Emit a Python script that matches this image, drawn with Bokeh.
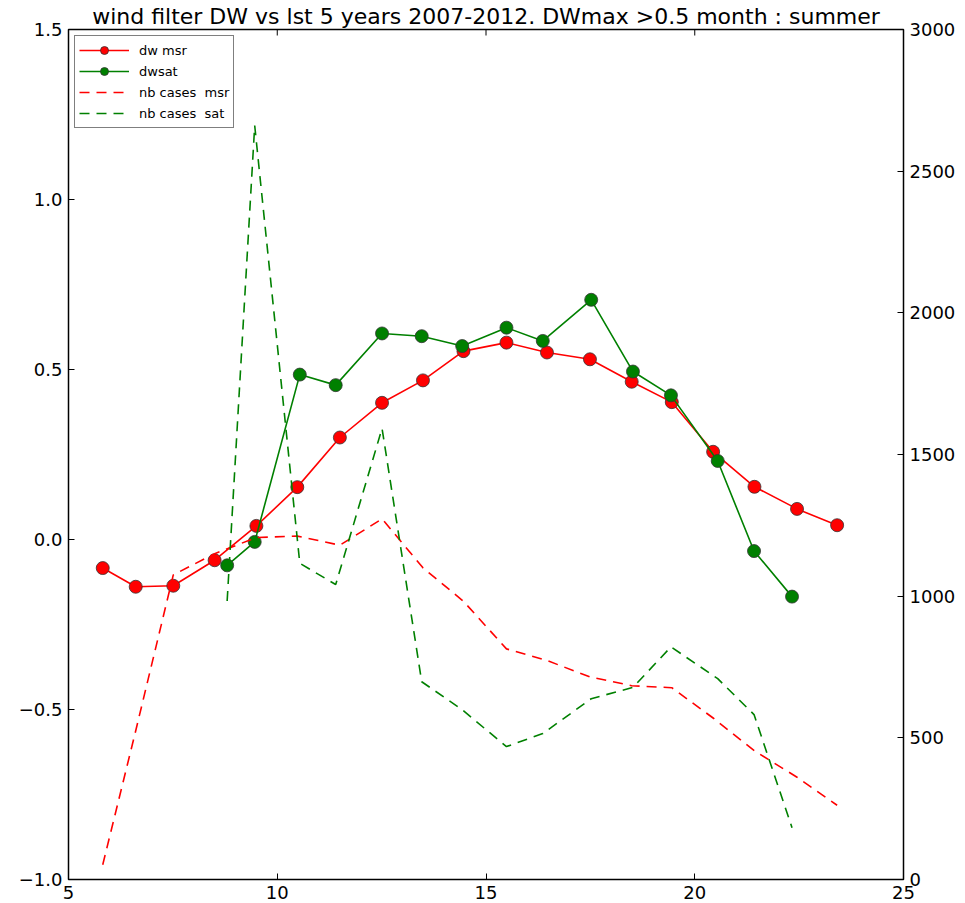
from bokeh.plotting import figure
from bokeh.models import Range1d, LinearAxis, FixedTicker, Legend, LegendItem
from bokeh.embed import file_html
from bokeh.resources import INLINE

title_text = "wind filter DW vs lst 5 years 2007-2012. DWmax >0.5 month : summer"

# measurement series (msr)
msr_x = [5.82, 6.61, 7.51, 8.50, 9.50, 10.48, 11.50, 12.51, 13.49, 14.46,
         15.49, 16.46, 17.49, 18.49, 19.45, 20.44, 21.43, 22.45, 23.41]
dw_msr = [-0.084, -0.139, -0.136, -0.061, 0.040, 0.154, 0.300, 0.402, 0.468, 0.554,
          0.579, 0.550, 0.530, 0.464, 0.404, 0.258, 0.155, 0.090, 0.042]
nb_msr = [52, 525, 1075, 1150, 1207, 1212, 1180, 1273, 1100, 982,
          814, 773, 715, 684, 677, 570, 454, 361, 262]

# satellite series (sat)
sat_x = [8.80, 9.46, 10.54, 11.40, 12.51, 13.46, 14.43, 15.49, 16.36, 17.52,
         18.52, 19.43, 20.55, 21.42, 22.33]
dw_sat = [-0.076, -0.007, 0.485, 0.454, 0.606, 0.598, 0.569, 0.623, 0.584, 0.705,
          0.494, 0.424, 0.231, -0.034, -0.168]
nb_sat = [983, 2661, 1116, 1041, 1592, 698, 599, 469, 515, 638,
          678, 821, 709, 582, 183]

x_ticks = [5, 10, 15, 20, 25]
y_ticks = [-1.0, -0.5, 0.0, 0.5, 1.0, 1.5]
y_labels = ["\u22121.0", "\u22120.5", "0.0", "0.5", "1.0", "1.5"]
n_ticks = [0, 500, 1000, 1500, 2000, 2500, 3000]

X_MIN, X_MAX = 5, 25
Y_MIN, Y_MAX = -1.0, 1.5
N_MIN, N_MAX = 0, 3000

FONT = "DejaVu Sans"
RED = "#ff0000"
GREEN = "#008000"

p = figure(width=965, height=903, output_backend="svg", toolbar_location=None,
           x_range=Range1d(X_MIN, X_MAX), y_range=Range1d(Y_MIN, Y_MAX),
           min_border_left=68, min_border_right=62, min_border_top=4,
           min_border_bottom=24)
p.extra_y_ranges = {"n": Range1d(N_MIN, N_MAX)}

p.title.text = title_text
p.title.align = "center"
p.title.text_font = FONT
p.title.text_font_size = "22px"
p.title.text_font_style = "normal"
p.title.text_color = "black"
p.title.standoff = 2

p.xgrid.visible = False
p.ygrid.visible = False
p.outline_line_color = "black"
p.outline_line_width = 1.5
p.background_fill_color = "white"
p.border_fill_color = "white"


def style_axis(ax):
    ax.major_tick_in = 6
    ax.major_tick_out = 0
    ax.minor_tick_line_color = None
    ax.axis_line_color = "black"
    ax.major_tick_line_color = "black"
    ax.major_label_text_font = FONT
    ax.major_label_text_font_size = "18px"
    ax.major_label_text_color = "black"
    ax.major_label_standoff = 6


p.xaxis.ticker = FixedTicker(ticks=x_ticks)
p.yaxis.ticker = FixedTicker(ticks=y_ticks)
p.yaxis.major_label_overrides = {t: l for t, l in zip(y_ticks, y_labels)}
style_axis(p.xaxis[0])
style_axis(p.yaxis[0])

right_axis = LinearAxis(y_range_name="n", ticker=FixedTicker(ticks=n_ticks))
style_axis(right_axis)
p.add_layout(right_axis, "right")

# inward tick marks on the top spine (matplotlib style), no labels
inner_x = [t for t in x_ticks if X_MIN < t < X_MAX]
tick_len = (Y_MAX - Y_MIN) * 6.0 / 850.0
p.segment(x0=inner_x, y0=[Y_MAX] * len(inner_x), x1=inner_x,
          y1=[Y_MAX - tick_len] * len(inner_x), line_color="black", line_width=1)

# solid series with markers
l_msr = p.line(msr_x, dw_msr, line_color=RED, line_width=1.6)
c_msr = p.scatter(msr_x, dw_msr, size=13, fill_color=RED, line_color="#333333", line_width=0.8)
l_sat = p.line(sat_x, dw_sat, line_color=GREEN, line_width=1.6)
c_sat = p.scatter(sat_x, dw_sat, size=13, fill_color=GREEN, line_color="#333333", line_width=0.8)

# number of cases (right axis)
d_msr = p.line(msr_x, nb_msr, y_range_name="n", line_color=RED, line_width=1.6,
               line_dash="10 7")
d_sat = p.line(sat_x, nb_sat, y_range_name="n", line_color=GREEN, line_width=1.6,
               line_dash="10 7")

legend = Legend(items=[
    LegendItem(label="dw msr", renderers=[l_msr, c_msr]),
    LegendItem(label="dwsat", renderers=[l_sat, c_sat]),
    LegendItem(label="nb cases  msr", renderers=[d_msr]),
    LegendItem(label="nb cases  sat", renderers=[d_sat]),
], location="top_left")
legend.margin = 6
legend.padding = 4
legend.spacing = 1
legend.glyph_width = 50
legend.glyph_height = 20
legend.label_standoff = 10
legend.label_text_font = FONT
legend.label_text_font_size = "13px"
legend.label_text_color = "black"
legend.border_line_color = "black"
legend.border_line_width = 1.5
legend.background_fill_color = "white"
legend.background_fill_alpha = 1.0
p.add_layout(legend, "center")

open("out.html", "w").write(file_html(p, INLINE))
